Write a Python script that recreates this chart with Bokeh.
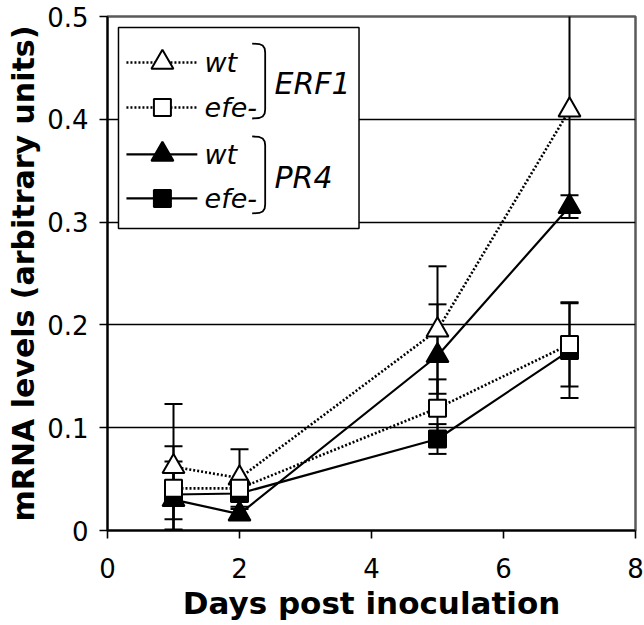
from bokeh.plotting import figure
from bokeh.models import Range1d, FixedTicker, Whisker, TeeHead, ColumnDataSource
from bokeh.embed import file_html
from bokeh.resources import INLINE
from bokeh.core.properties import value

FONT = "DejaVu Sans"

# ---------------- data ----------------
days = [1, 2, 5, 7]
erf1_wt = [0.062, 0.051, 0.195, 0.409]
erf1_wt_err = [0.061, 0.028, 0.062, 0.100]
erf1_efe = [0.041, 0.041, 0.119, 0.181]
erf1_efe_err = [0.041, 0.006, 0.028, 0.041]
pr4_wt = [0.030, 0.016, 0.170, 0.315]
pr4_wt_err = [0.037, 0.005, 0.050, 0.011]
pr4_efe = [0.035, 0.036, 0.089, 0.175]
pr4_efe_err = [0.024, 0.005, 0.0145, 0.046]

x_ticks = [0, 2, 4, 6, 8]
x_tick_labels = ["0", "2", "4", "6", "8"]
y_ticks = [0, 0.1, 0.2, 0.3, 0.4, 0.5]
y_tick_labels = ["0", "0.1", "0.2", "0.3", "0.4", "0.5"]
grid_ticks = [0.1, 0.2, 0.3, 0.4]

genes = ["ERF1", "PR4"]
genotypes = ["wt", "efe-"]

# ---------------- figure ----------------
p = figure(width=644, height=625, output_backend="svg", toolbar_location=None,
           x_range=Range1d(0, 8), y_range=Range1d(0, 0.5),
           min_border_left=107, min_border_right=9, min_border_top=16,
           min_border_bottom=95)
p.background_fill_color = "white"
p.border_fill_color = "white"
p.outline_line_color = "#5a5a5a"
p.outline_line_width = 2.5

p.xgrid.visible = False
p.ygrid.ticker = FixedTicker(ticks=grid_ticks)
p.ygrid.grid_line_color = "black"
p.ygrid.grid_line_width = 1.3

for ax in (p.xaxis[0], p.yaxis[0]):
    ax.axis_line_color = "black"
    ax.axis_line_width = 2
    ax.major_tick_line_color = "black"
    ax.major_tick_line_width = 1.6
    ax.major_tick_out = 8
    ax.major_tick_in = 0
    ax.minor_tick_line_color = None
    ax.major_label_text_font = FONT
    ax.major_label_text_font_size = "26px"
    ax.major_label_text_color = "black"
    ax.axis_label_text_font = FONT
    ax.axis_label_text_font_style = "bold"
    ax.axis_label_text_color = "black"

p.xaxis.ticker = FixedTicker(ticks=x_ticks)
p.xaxis.major_label_overrides = dict(zip(x_ticks, x_tick_labels))
p.yaxis.ticker = FixedTicker(ticks=y_ticks)
p.yaxis.major_label_overrides = dict(zip(y_ticks, y_tick_labels))
p.xaxis.major_label_standoff = 19
p.yaxis.major_label_standoff = 11
p.xaxis.axis_label = "Days post inoculation"
p.yaxis.axis_label = "mRNA levels (arbitrary units)"
p.xaxis.axis_label_text_font_size = "31px"
p.yaxis.axis_label_text_font_size = "30px"
p.xaxis.axis_label_standoff = 4
p.yaxis.axis_label_standoff = 3

# ---------------- series ----------------
series = [
    (pr4_wt, pr4_wt_err, "triangle", "black", None),
    (pr4_efe, pr4_efe_err, "square", "black", None),
    (erf1_wt, erf1_wt_err, "triangle", "white", "2 2"),
    (erf1_efe, erf1_efe_err, "square", "white", "2 2"),
]
MSIZE = {"triangle": 22, "square": 17}

# error bars (drawn beneath the lines and markers)
for vals, errs, mk, fill, dash in series:
    src = ColumnDataSource(dict(
        x=days,
        up=[v + e for v, e in zip(vals, errs)],
        lo=[v - e for v, e in zip(vals, errs)],
    ))
    w = Whisker(base="x", upper="up", lower="lo", source=src, level="underlay",
                line_color="black", line_width=2,
                upper_head=TeeHead(size=18, line_width=2, line_color="black"),
                lower_head=TeeHead(size=18, line_width=2, line_color="black"))
    p.add_layout(w)

for vals, errs, mk, fill, dash in series:
    if dash:
        p.line(days, vals, line_color="black", line_width=2.6, line_dash=dash)
    else:
        p.line(days, vals, line_color="black", line_width=2.2)

for vals, errs, mk, fill, dash in series:
    p.scatter(days, vals, marker=mk, size=MSIZE[mk], fill_color=fill,
              line_color="black", line_width=2)

# ---------------- legend (drawn in data units) ----------------
box_l, box_r, box_t, box_b = 0.1664, 3.811, 0.4893, 0.2938
p.quad(left=[box_l], right=[box_r], top=[box_t], bottom=[box_b],
       fill_color="white", line_color="black", line_width=1.5)

row_y = [0.4553, 0.4115, 0.3658, 0.3230]
line_x0, line_x1, mark_x, text_x = 0.287, 1.361, 0.832, 1.47
leg_entries = [
    ("triangle", "white", "2 2", genotypes[0]),
    ("square", "white", "2 2", genotypes[1]),
    ("triangle", "black", None, genotypes[0]),
    ("square", "black", None, genotypes[1]),
]
for (mk, fill, dash, lab), yy in zip(leg_entries, row_y):
    if dash:
        p.line([line_x0, line_x1], [yy, yy], line_color="black", line_width=2.6, line_dash=dash)
    else:
        p.line([line_x0, line_x1], [yy, yy], line_color="black", line_width=2.2)
    p.scatter([mark_x], [yy], marker=mk, size=MSIZE[mk], fill_color=fill,
              line_color="black", line_width=2)
    p.text([text_x], [yy], text=[lab], text_font=value(FONT), text_font_style="italic",
           text_font_size="27px", text_baseline="middle", text_align="left",
           text_color="black")

# brackets
px_x = 1 / 66.0
px_y = 1 / 1028.0
def bracket(y_top, y_bot, x_right):
    offs = [(-13, 0), (-6, 0.5), (-2.5, 2), (-0.5, 5), (0, 9)]
    xs, ys = [], []
    for dx, dy in offs:
        xs.append(x_right + dx * px_x)
        ys.append(y_top - dy * px_y)
    for dx, dy in reversed(offs):
        xs.append(x_right + dx * px_x)
        ys.append(y_bot + dy * px_y)
    return xs, ys

br_x = 2.389
for (yt, yb), gname, gy in zip([(0.4737, 0.4008), (0.3833, 0.3084)], genes, [0.4348, 0.3434]):
    bx, by = bracket(yt, yb, br_x)
    p.line(bx, by, line_color="black", line_width=1.8)
    p.text([2.53], [gy], text=[gname], text_font=value(FONT), text_font_style="italic",
           text_font_size="30px", text_baseline="middle", text_align="left",
           text_color="black")

open("out.html", "w").write(file_html(p, INLINE))
